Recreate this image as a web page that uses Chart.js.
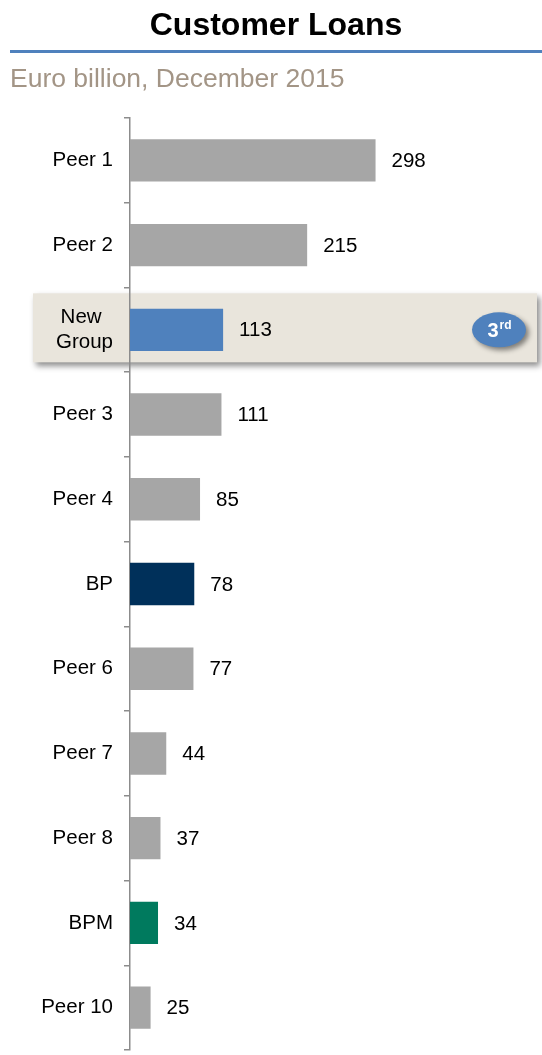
<!DOCTYPE html>
<html lang="en">
<head>
    <meta charset="UTF-8">
    <title>Customer Loans</title>
    <script src="https://cdn.jsdelivr.net/npm/chart.js"></script>
    <style>
        body {
            margin: 0;
            background: #fff;
            font-family: 'Liberation Sans', Arial, sans-serif;
        }
        .page {
            position: relative;
            width: 542px;
            height: 1055px;
        }
        .title {
            position: absolute;
            left: 0;
            width: 552px;
            top: 6px;
            text-align: center;
            font-size: 32px;
            font-weight: bold;
            color: #000;
        }
        .rule {
            position: absolute;
            left: 10px;
            right: 0;
            top: 50px;
            height: 3px;
            background: #4F81BD;
        }
        .subtitle {
            position: absolute;
            left: 10px;
            top: 63px;
            font-size: 26.5px;
            color: #A39586;
        }
        canvas {
            position: absolute;
            left: 0;
            top: 0;
        }
    </style>
</head>
<body>
    <div class="page">
        <canvas id="loansChart" width="542" height="1055"></canvas>
        <div class="title">Customer Loans</div>
        <div class="rule"></div>
        <div class="subtitle">Euro billion, December 2015</div>
    </div>

    <script>
        // nbsp after "New" keeps it centred over "Group" on a right-aligned axis
        const banks = ['Peer 1', 'Peer 2', ['New\u00A0\u00A0', 'Group'], 'Peer 3', 'Peer 4', 'BP', 'Peer 6', 'Peer 7', 'Peer 8', 'BPM', 'Peer 10'];
        const loans = [298, 215, 113, 111, 85, 78, 77, 44, 37, 34, 25];
        const barColors = ['#A6A6A6', '#A6A6A6', '#4F81BD', '#A6A6A6', '#A6A6A6', '#00305A', '#A6A6A6', '#A6A6A6', '#A6A6A6', '#007A5E', '#A6A6A6'];
        const highlightIndex = 2;
        const rankText = '3';
        const rankSuffix = 'rd';

        const FONT = "'Liberation Sans', Arial, sans-serif";

        // beige band + rank badge behind the highlighted row
        const highlightRow = {
            id: 'highlightRow',
            beforeDraw(chart) {
                const ctx = chart.ctx;
                const y = chart.scales.y;
                const cy = y.getPixelForValue(highlightIndex);
                const h = 69;
                ctx.save();
                ctx.shadowColor = 'rgba(0,0,0,0.45)';
                ctx.shadowBlur = 6;
                ctx.shadowOffsetX = 3;
                ctx.shadowOffsetY = 4;
                ctx.fillStyle = '#E9E5DC';
                ctx.fillRect(33, cy - h / 2 - 2, 504, h);
                ctx.restore();
            },
            afterDatasetsDraw(chart) {
                const ctx = chart.ctx;
                const y = chart.scales.y;
                const cy = y.getPixelForValue(highlightIndex);
                const cx = 499;
                ctx.save();
                ctx.shadowColor = 'rgba(0,0,0,0.45)';
                ctx.shadowBlur = 5;
                ctx.shadowOffsetX = 3;
                ctx.shadowOffsetY = 3;
                ctx.fillStyle = '#4F81BD';
                ctx.beginPath();
                ctx.ellipse(cx, cy, 27, 17.5, 0, 0, Math.PI * 2);
                ctx.fill();
                ctx.restore();

                ctx.save();
                ctx.fillStyle = '#fff';
                ctx.textBaseline = 'alphabetic';
                ctx.font = 'bold 20px ' + FONT;
                const w1 = ctx.measureText(rankText).width;
                ctx.font = 'bold 12px ' + FONT;
                const w2 = ctx.measureText(rankSuffix).width;
                const x0 = cx - (w1 + w2) / 2;
                ctx.font = 'bold 20px ' + FONT;
                ctx.fillText(rankText, x0, cy + 7);
                ctx.font = 'bold 12px ' + FONT;
                ctx.fillText(rankSuffix, x0 + w1 + 1, cy - 1);
                ctx.restore();
            }
        };

        // value labels to the right of each bar
        const valueLabels = {
            id: 'valueLabels',
            afterDatasetsDraw(chart) {
                const ctx = chart.ctx;
                const meta = chart.getDatasetMeta(0);
                ctx.save();
                ctx.font = '20.5px ' + FONT;
                ctx.fillStyle = '#000';
                ctx.textAlign = 'left';
                ctx.textBaseline = 'middle';
                meta.data.forEach((bar, i) => {
                    ctx.fillText(loans[i], bar.x + 16, bar.y + 1);
                });
                ctx.restore();
            }
        };

        new Chart(document.getElementById('loansChart'), {
            type: 'bar',
            data: {
                labels: banks,
                datasets: [{
                    data: loans,
                    backgroundColor: barColors,
                    borderWidth: 0,
                    barPercentage: 0.5,
                    categoryPercentage: 1
                }]
            },
            options: {
                indexAxis: 'y',
                responsive: false,
                animation: false,
                layout: {
                    padding: { top: 118, bottom: 5, left: 0, right: 0 }
                },
                plugins: {
                    legend: { display: false },
                    tooltip: { enabled: false }
                },
                scales: {
                    x: {
                        display: false,
                        min: 0,
                        max: 500
                    },
                    y: {
                        afterFit(scale) {
                            scale.width = 130;
                            scale.paddingTop = 0;
                            scale.paddingBottom = 0;
                        },
                        border: { display: true, color: '#8C8C8C', width: 1.5 },
                        grid: {
                            drawOnChartArea: false,
                            tickLength: 6,
                            color: '#8C8C8C',
                            lineWidth: 1.5,
                            offset: true
                        },
                        ticks: {
                            padding: 11,
                            color: '#000',
                            font: { family: FONT, size: 20.5, lineHeight: 1.2 }
                        }
                    }
                }
            },
            plugins: [highlightRow, valueLabels]
        });
    </script>
</body>
</html>
